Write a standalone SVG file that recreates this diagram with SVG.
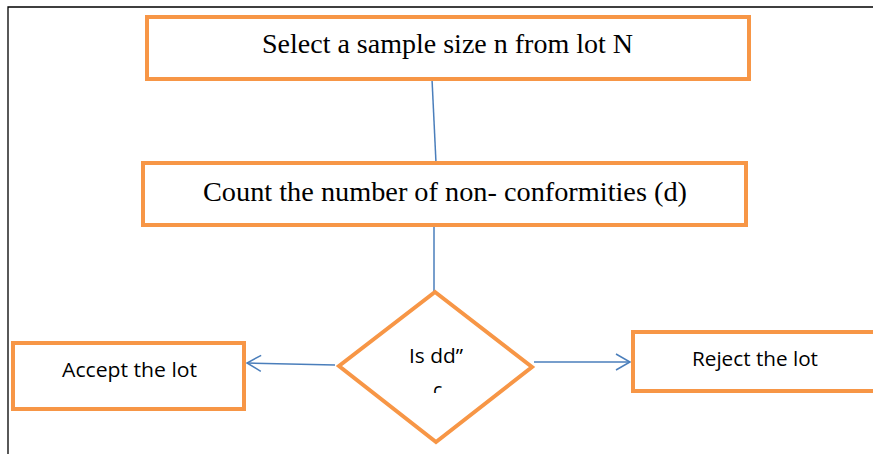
<svg xmlns="http://www.w3.org/2000/svg" width="873" height="454" viewBox="0 0 873 454">
  <style>
    .box { fill: #ffffff; stroke: #F79646; stroke-width: 4; }
    .serif { font-family: "Liberation Serif", "Times New Roman", serif; font-size: 28px; fill: #000; }
    .sans { font-family: "Open Sans", "Liberation Sans", sans-serif; font-size: 19.5px; fill: #000; }
    .link { stroke: #4A7EBB; stroke-width: 1.5; fill: none; }
    .frame { stroke: #000; stroke-width: 1.3; fill: none; }
  </style>
  <defs>
    <marker id="open-arrow" markerWidth="18" markerHeight="20" refX="15" refY="10" orient="auto" markerUnits="userSpaceOnUse">
      <path d="M1,2 L15,10 L1,18" fill="none" stroke="#4A7EBB" stroke-width="1.5"/>
    </marker>
    <clipPath id="decision-clip">
      <rect x="340" y="300" width="190" height="93"/>
    </clipPath>
  </defs>

  <!-- page frame -->
  <path class="frame" d="M8,454 L8,7 L873,7"/>

  <g id="connectors">
    <line class="link" x1="432" y1="79" x2="436" y2="163"/>
    <line class="link" x1="434" y1="225" x2="434" y2="292"/>
    <line class="link" x1="335" y1="365" x2="247" y2="363" marker-end="url(#open-arrow)"/>
    <line class="link" x1="534" y1="362" x2="630" y2="362" marker-end="url(#open-arrow)"/>
  </g>

  <g id="select-sample">
    <rect class="box" x="147" y="17" width="602" height="62"/>
    <text class="serif" x="262" y="53" textLength="371" lengthAdjust="spacingAndGlyphs">Select a sample size n from lot N</text>
  </g>

  <g id="count-nonconformities">
    <rect class="box" x="143" y="163" width="603" height="62"/>
    <text class="serif" x="203" y="201" textLength="484" lengthAdjust="spacingAndGlyphs">Count the number of non- conformities (d)</text>
  </g>

  <g id="decision">
    <polygon class="box" points="435,292 532,367 436,442 339,366"/>
    <g clip-path="url(#decision-clip)">
      <text class="sans" x="409" y="363" textLength="54" lengthAdjust="spacingAndGlyphs">Is dd”</text>
      <text class="sans" x="433" y="397">c</text>
    </g>
  </g>

  <g id="accept-lot">
    <rect class="box" x="13" y="343" width="231" height="66"/>
    <text class="sans" x="62" y="377" textLength="135" lengthAdjust="spacingAndGlyphs">Accept the lot</text>
  </g>

  <g id="reject-lot">
    <rect class="box" x="633" y="332" width="250" height="59"/>
    <text class="sans" x="692" y="366" textLength="126" lengthAdjust="spacingAndGlyphs">Reject the lot</text>
  </g>
</svg>
